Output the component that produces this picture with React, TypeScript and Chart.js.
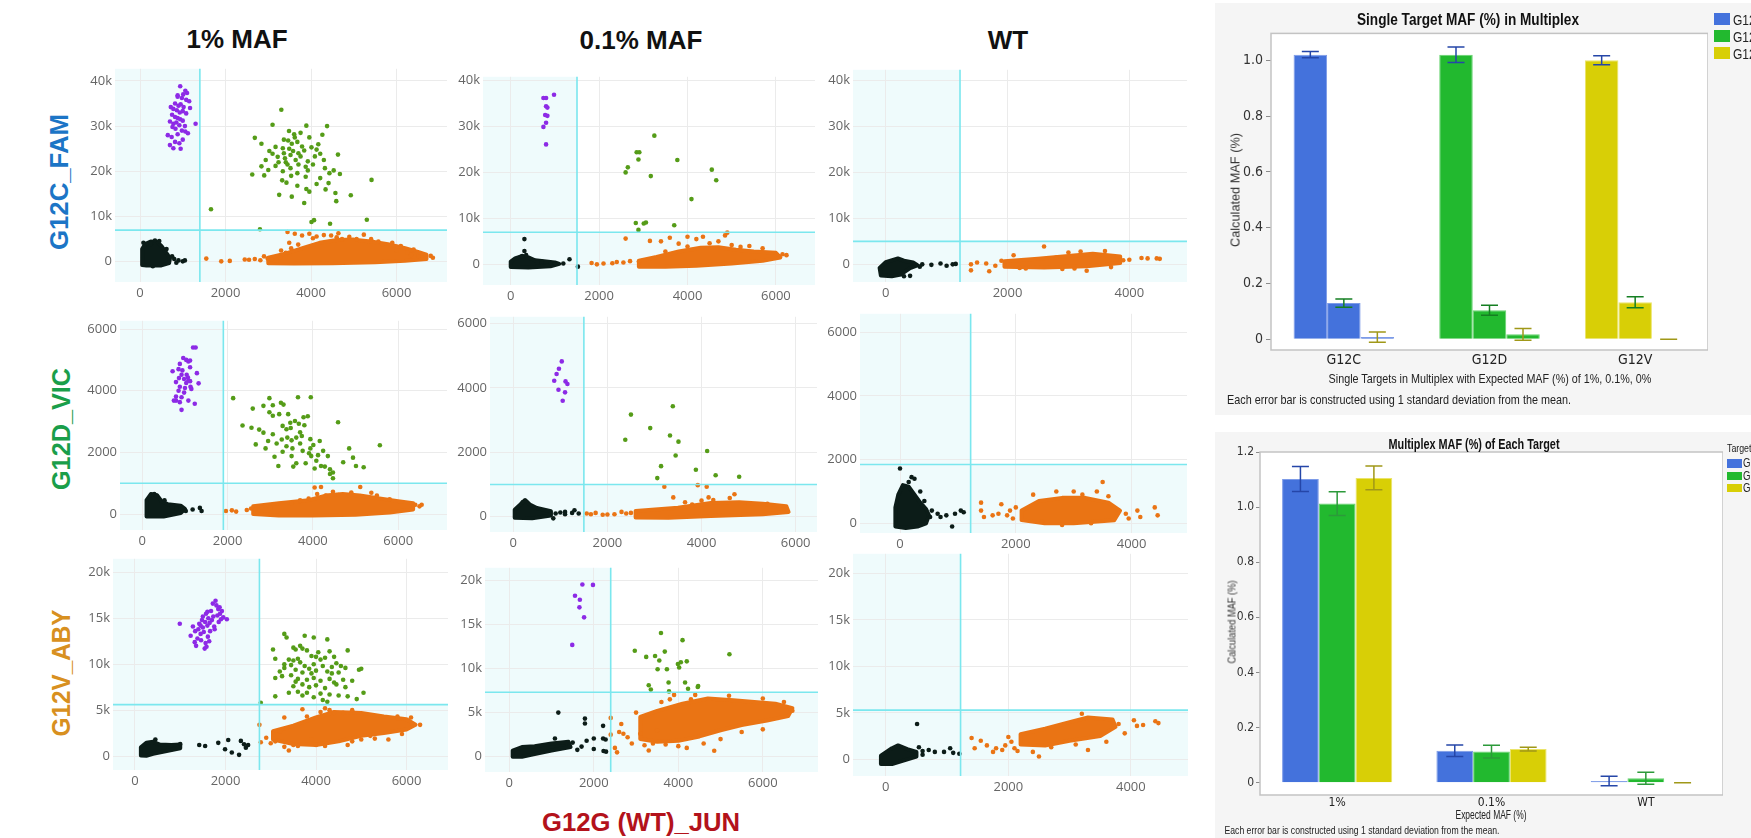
import React, { useEffect, useRef } from 'react';
import { Chart, registerables } from 'chart.js';

Chart.register(...registerables);

type P = [number, number];

// ---------------- axis ticks ----------------
const xTicks6k = [0, 2000, 4000, 6000];
const xTicks4k = [0, 2000, 4000];
const yTicksFam = [0, 10000, 20000, 30000, 40000];
const yLabelsFam = ['0', '10k', '20k', '30k', '40k'];
const yTicksVic = [0, 2000, 4000, 6000];
const yLabelsVic = ['0', '2000', '4000', '6000'];
const yTicksAby = [0, 5000, 10000, 15000, 20000];
const yLabelsAby = ['0', '5k', '10k', '15k', '20k'];

// ---------------- thresholds [x, y] ----------------
const fam1Thr: P = [1400, 7000];
const fam01Thr: P = [1500, 7000];
const famWTThr: P = [1220, 5000];
const vic1Thr: P = [1900, 1000];
const vic01Thr: P = [1500, 1000];
const vicWTThr: P = [1220, 1850];
const aby1Thr: P = [2750, 5600];
const aby01Thr: P = [2400, 7300];
const abyWTThr: P = [1220, 5300];

// ---------------- G12C_FAM, 1% ----------------
const fam1Purple: P[] = [[940,38800],[1060,37800],[1010,37000],[1100,37300],[880,36500],[980,36200],[1080,35800],[1150,35500],[820,35000],[900,34500],[950,34800],[1020,34200],[780,33800],[860,33500],[930,33000],[1000,33300],[1080,32800],[750,32500],[820,32000],[880,31800],[940,31500],[1000,31200],[700,31000],[780,30500],[850,30800],[920,30200],[1300,30500],[760,29800],[830,29400],[980,29000],[1060,28800],[650,28000],[740,27600],[880,28200],[1000,27000],[820,26500],[700,25800],[920,26200],[780,25100],[950,25000],[1120,28400],[1050,30000],[880,36800],[1170,34000],[720,34200]];
const fam1Green: P[] = [[3305,33600],[3100,30300],[3890,30100],[4375,30000],[2685,27400],[2840,26100],[3485,28900],[3605,28200],[3755,28500],[3170,25400],[3340,25100],[3465,26800],[3550,26100],[3680,26500],[3840,24600],[4010,25300],[4170,26000],[4265,28100],[3100,23900],[3220,23200],[3390,22900],[3520,23600],[3640,22500],[3755,23300],[3925,22200],[4090,23300],[4215,23900],[4630,23700],[2840,21100],[3000,20300],[3170,21200],[3340,20000],[3520,20700],[3680,19600],[2625,19300],[2905,19100],[3925,20200],[4325,20700],[4430,19600],[4530,20200],[4675,19400],[5415,18100],[3425,17500],[3680,16800],[3890,16100],[4130,17200],[4410,17400],[3255,14800],[3550,14400],[3840,13000],[4570,15200],[4590,13400],[4930,14700],[4010,8800],[4070,9200],[4445,8400],[5305,9300],[2805,7200],[1660,11600],[3365,24000],[3490,25000],[3580,24500],[3705,24000],[3790,25500],[3410,22000],[3705,21500],[3875,21000],[3240,22000],[3450,21500],[4045,21500],[4300,22500],[3620,27500],[3365,27000],[3960,27500],[3025,24500],[2940,22500],[4130,24800],[3535,19000],[3875,18800],[4215,18500],[3325,18000],[4340,16000],[3960,15500]];
const fam1BlackCore: P[] = [[50,-700],[50,2800],[120,3900],[250,4500],[400,4400],[500,3500],[580,2400],[650,1500],[700,700],[680,-300],[500,-800],[150,-800]];
const fam1Black: P[] = [[800,600],[900,300],[1000,100],[750,1200],[350,4700],[250,3900],[1050,300],[80,4200],[450,4600],[620,2800],[300,-1000],[850,-200]];
const fam1OrangeCore: P[] = [[3000,-300],[3000,900],[3400,1800],[3800,3000],[4200,4200],[4600,4800],[5000,4900],[5400,4500],[5800,3900],[6200,3000],[6500,2200],[6700,1600],[6700,600],[6200,200],[5500,-100],[4500,-300],[3600,-400]];
const fam1Orange: P[] = [[1550,700],[1900,100],[2100,200],[2450,500],[2550,450],[2685,600],[2815,350],[2985,700],[3070,500],[3195,300],[3280,900],[3450,6600],[3620,6200],[3790,5800],[3960,6200],[4130,5600],[4300,5900],[4470,5800],[4600,5400],[4725,5000],[4895,5500],[5065,5000],[5235,6000],[5405,5000],[5575,4500],[5660,3800],[6255,2000],[6340,1500],[6510,1200],[6000,2500],[4640,6300],[4045,5200],[3535,3000],[3410,2000],[3490,4200],[3300,2500],[3700,3800],[5900,4200],[6100,3500],[6400,2700],[6800,1300],[6850,900],[2900,1200]];

// ---------------- G12C_FAM, 0.1% ----------------
const fam01Purple: P[] = [[740,36200],[800,36200],[980,36900],[800,34400],[830,34100],[780,32500],[830,32300],[800,30800],[740,29900],[800,26100]];
const fam01Green: P[] = [[3250,28000],[2850,24400],[2910,24400],[2650,21100],[2600,20000],[2890,22800],[3170,19200],[3770,22700],[4550,20600],[4650,18300],[4090,14200],[2830,9000],[3010,8900],[3060,9100],[2890,7500],[3700,8500]];
const fam01BlackCore: P[] = [[0,-600],[0,600],[100,1300],[250,1800],[400,1500],[550,900],[800,600],[1000,400],[1100,100],[900,-400],[400,-700]];
const fam01Black: P[] = [[310,5500],[310,2900],[260,1800],[350,2000],[1190,200],[1330,1100],[1520,-500],[900,300],[1000,200],[700,600],[600,400]];
const fam01OrangeCore: P[] = [[2900,-500],[2900,800],[3300,1600],[3800,2800],[4300,3600],[4700,3700],[5100,3200],[5500,2800],[6000,2500],[6100,1500],[5700,800],[5000,200],[4200,-300],[3500,-500]];
const fam01Orange: P[] = [[1830,300],[1950,0],[2100,200],[2300,250],[2400,500],[2550,400],[2700,700],[2900,600],[2600,5600],[3150,5100],[3400,5000],[3600,5800],[3800,4500],[4000,6000],[4200,5500],[4350,6000],[4500,4600],[4700,5000],[4850,6300],[5000,4200],[5200,3800],[5400,4000],[5700,3500],[6240,2000],[4900,6900],[3500,2800],[4000,3900],[6150,2200]];

// ---------------- G12C_FAM, WT ----------------
const famWTBlackCore: P[] = [[-80,-2400],[-100,-800],[0,500],[200,1300],[300,800],[450,400],[520,-200],[400,-800],[250,-2200],[100,-2600]];
const famWTBlack: P[] = [[600,0],[750,-100],[900,200],[1000,-300],[1100,0],[1150,100],[400,-2500],[300,-2600],[560,-500]];
const famWTOrangeCore: P[] = [[1950,-500],[1950,700],[2500,1200],[3000,1800],[3400,2300],[3850,1700],[3850,300],[3300,-400],[2600,-700]];
const famWTOrange: P[] = [[1400,-1300],[1400,0],[1500,400],[1700,-1500],[1800,-300],[1900,800],[1650,200],[2100,2000],[2300,-900],[2600,3900],[2800,1500],[3000,2600],[3200,2800],[3300,-1400],[3500,1900],[3600,2900],[3700,-600],[3900,900],[4000,1000],[4200,1400],[4300,1300],[4450,1300],[4500,1200],[3100,-900],[2900,-1000],[2200,-800]];
const famWTPurple: P[] = [];
const famWTGreen: P[] = [];

// ---------------- G12D_VIC, 1% ----------------
const vic1Purple: P[] = [[1190,5400],[1250,5400],[960,5060],[1030,5000],[1080,4950],[880,4870],[1120,4760],[710,4630],[850,4700],[1280,4570],[920,4520],[980,4380],[1080,4330],[790,4280],[1030,4250],[1120,4310],[1320,4240],[880,4130],[1000,4090],[1150,4060],[790,3810],[920,3790],[790,3680],[880,3630],[1080,3680],[1230,3580],[920,3380],[850,4000],[1040,4520],[980,3940],[740,3680],[1120,4980],[1130,4130],[940,4660],[860,4410],[1070,4430]];
const vic1Green: P[] = [[2130,3760],[2980,3760],[3650,3790],[3950,3790],[2590,3420],[2840,3510],[3060,3530],[3250,3610],[3310,3550],[2980,3300],[3060,3190],[3210,3240],[3420,3240],[3470,2960],[3580,3020],[3780,3140],[3880,3170],[2350,2870],[2560,2800],[2740,2740],[3290,2860],[3480,2790],[3670,2930],[3800,2880],[4590,2980],[2840,2640],[3060,2590],[3400,2480],[3610,2480],[3740,2530],[3940,2430],[2660,2260],[2950,2370],[3150,2290],[3380,2200],[3500,2390],[3700,2290],[4010,2240],[4160,2370],[2890,2130],[3290,2020],[3520,2130],[3760,2050],[3940,2130],[4240,2050],[4850,2130],[3100,1860],[3500,1880],[3610,1650],[3830,1650],[3960,1880],[4080,1730],[4350,1880],[4940,1830],[3190,1560],[3540,1540],[4040,1480],[4190,1560],[4400,1450],[4470,1350],[5190,1520],[4280,1540],[4400,1300],[4470,1160],[3910,1970],[3700,2650],[3380,2750],[3270,2420],[5570,2230],[4710,1680],[4120,1910],[5010,1560]];
const vic1BlackCore: P[] = [[100,-80],[100,450],[200,650],[350,600],[450,420],[600,320],[900,270],[1000,170],[900,30],[500,-80]];
const vic1Black: P[] = [[1180,150],[1350,200],[1390,100],[1020,100],[800,180],[700,220],[280,650],[330,600],[520,450]];
const vic1OrangeCore: P[] = [[2600,0],[2600,250],[3200,350],[3900,450],[4300,600],[4700,650],[5100,600],[5600,500],[6000,420],[6350,350],[6350,150],[5800,50],[5000,-20],[4000,-50],[3200,-50]];
const vic1Orange: P[] = [[1960,100],[2100,120],[2200,80],[2450,130],[2550,180],[2650,140],[2800,220],[3000,200],[3500,350],[3700,450],[4040,860],[4190,880],[4470,720],[4850,610],[5110,880],[5370,690],[4600,620],[4300,600],[6400,300],[6550,300],[6500,250],[3900,500],[5800,480],[4900,700],[5500,600],[4100,650]];

// ---------------- G12D_VIC, 0.1% ----------------
const vic01Purple: P[] = [[1030,4820],[970,4590],[920,4430],[870,4220],[1110,4200],[1150,4120],[960,3940],[1100,3860],[1050,3600]];
const vic01Green: P[] = [[2500,3170],[3390,3430],[2380,2390],[2910,2750],[3330,2520],[3510,2330],[3450,1900],[3140,1570],[3060,1200],[3880,1460],[4120,2040],[4300,1290],[4800,1240]];
const vic01BlackCore: P[] = [[30,-30],[30,220],[150,380],[250,520],[350,380],[500,270],[800,170],[800,40],[400,-50]];
const vic01Black: P[] = [[900,100],[1000,130],[1100,80],[1250,120],[1300,200],[1390,100],[1100,150],[200,450],[850,-50]];
const vic01OrangeCore: P[] = [[2600,-20],[2600,180],[3500,280],[4200,430],[4800,450],[5300,400],[5800,330],[5850,150],[5300,80],[4200,20],[3300,-30]];
const vic01Orange: P[] = [[1560,100],[1650,80],[1750,120],[1900,60],[2000,70],[2150,80],[2300,150],[2400,100],[2500,120],[3210,930],[3920,980],[4110,930],[3400,600],[3650,450],[4000,500],[4250,520],[4600,580],[4700,700],[5000,400],[5400,400],[4150,600],[3800,380]];

// ---------------- G12D_VIC, WT ----------------
const vicWTBlackCore: P[] = [[-80,-100],[-80,500],[-30,900],[50,1200],[150,1150],[250,900],[350,650],[450,450],[500,250],[450,0],[300,-100],[100,-150]];
const vicWTBlack: P[] = [[0,1720],[150,1300],[200,1450],[250,1400],[350,1000],[420,700],[550,400],[650,300],[800,250],[950,300],[1050,400],[1100,350],[900,-100],[520,200],[700,200]];
const vicWTOrangeCore: P[] = [[2100,100],[2100,400],[2400,700],[2800,800],[3200,800],[3600,650],[3800,400],[3700,100],[3000,0],[2500,0]];
const vicWTOrange: P[] = [[1400,650],[1400,400],[1450,200],[1600,250],[1700,300],[1750,600],[1850,250],[1900,400],[1950,150],[2000,500],[2300,900],[2700,1000],[3000,1000],[3150,900],[3400,1000],[3500,1300],[3600,850],[3900,300],[3950,150],[4100,400],[4150,200],[4400,500],[4450,250],[2800,-50],[3300,0],[2450,50]];
const vicWTPurple: P[] = [];
const vicWTGreen: P[] = [];

// ---------------- G12V_ABY, 1% ----------------
const aby1Purple: P[] = [[990,14400],[1230,13100],[1280,14100],[1320,12400],[1330,13600],[1350,12000],[1380,12800],[1400,13800],[1420,14400],[1450,13300],[1460,12600],[1480,14800],[1500,14000],[1500,15200],[1520,13500],[1540,11700],[1550,14600],[1560,12300],[1570,15500],[1580,11900],[1600,14200],[1610,13000],[1620,15000],[1640,12500],[1650,14500],[1660,13600],[1680,15800],[1700,14800],[1720,16600],[1730,15200],[1750,14100],[1780,16900],[1800,16400],[1820,15300],[1840,16000],[1850,14600],[1870,16200],[1880,15500],[1900,14900],[1920,15800],[1950,15100],[2030,14900],[1600,15700],[1450,14200],[1760,13800]];
const aby1Green: P[] = [[3300,13300],[3350,12900],[3750,13100],[3950,12900],[4250,12700],[3050,11600],[3500,11800],[3550,11600],[3700,11700],[3800,11500],[4050,11300],[4300,11400],[4700,11500],[3100,10600],[3400,10500],[3500,10400],[3600,10600],[3900,10900],[4000,10800],[4100,10500],[4200,10700],[4400,10800],[4450,10100],[3300,10000],[3450,9900],[3650,10200],[3750,9800],[3850,9500],[3950,10000],[4150,9800],[4350,9700],[4550,9800],[4650,9600],[4950,9400],[5000,9500],[3200,9200],[3300,9600],[3550,9400],[3700,9100],[3900,9000],[4000,9300],[4250,9200],[4500,9100],[3100,8500],[3250,8700],[3450,8800],[3600,8400],[3800,8300],[3950,8500],[4100,8200],[4300,8400],[4400,8000],[4600,8300],[4800,8200],[3500,7600],[3700,7800],[3850,7500],[4000,7700],[4200,7400],[4450,7800],[4650,7500],[3600,7000],[3800,6900],[4100,6800],[4300,6700],[4500,6600],[4700,6500],[4900,6200],[5050,6900],[3100,6500],[3400,6900],[3950,6400],[4150,6100],[3700,6600],[4250,5900],[2780,5800],[3550,8100],[4350,9000],[3650,12000]];
const aby1BlackCore: P[] = [[130,50],[130,950],[250,1450],[400,1550],[550,1250],[800,1200],[1000,1250],[1000,850],[700,550],[400,250],[250,30]];
const aby1Black: P[] = [[450,1800],[1000,1300],[1420,1200],[1840,1440],[2060,1740],[1990,740],[2140,380],[2300,130],[2340,1650],[2410,1290],[2450,900],[2500,1200],[1550,1100]];
const aby1OrangeCore: P[] = [[3050,1800],[3050,2700],[3500,3300],[4000,4200],[4400,4800],[5000,4700],[5500,4300],[6000,4000],[6200,3400],[6000,2900],[5500,2500],[5000,2200],[4500,1600],[4000,1200],[3500,1300]];
const aby1Orange: P[] = [[2750,3400],[2780,1500],[2900,2000],[3000,1400],[3100,1600],[3300,1000],[3400,600],[3500,1200],[3600,1100],[3700,5100],[3900,1800],[4000,1200],[4200,1100],[4100,4800],[4300,5000],[4400,4700],[4600,4700],[4800,1600],[5000,1800],[5200,2200],[5300,1900],[5600,1800],[5800,4300],[6100,4200],[6300,3400],[5900,2400],[4700,1200],[3200,2700],[3300,4200],[4200,5200],[3800,4300],[4800,5000]];

// ---------------- G12V_ABY, 0.1% ----------------
const aby01Purple: P[] = [[1730,19500],[1980,19450],[1555,18230],[1670,17770],[1660,16910],[1770,15780],[1490,12660]];
const aby01Green: P[] = [[3590,14000],[4100,13200],[2970,12000],[3680,11900],[3240,11300],[3450,11400],[3550,10900],[4200,10800],[4060,10700],[3990,10500],[4020,10100],[3510,9900],[3730,9900],[5210,11600],[3300,8100],[3350,7600],[3770,8400],[4160,8400],[4230,7700],[4470,8000],[4460,7900],[3780,7400]];
const aby01BlackCore: P[] = [[80,0],[80,700],[300,1100],[600,1200],[1000,1500],[1400,1700],[1450,1100],[1000,700],[600,300],[300,0]];
const aby01Black: P[] = [[1160,5000],[1790,4320],[1790,3760],[1080,2070],[1830,1820],[1610,780],[1710,1150],[2000,2070],[2220,2070],[2280,1960],[2220,3500],[2000,880],[2230,660],[2290,580],[1500,1600]];
const aby01OrangeCore: P[] = [[3100,2000],[3100,4500],[3500,5200],[4100,6000],[4700,6600],[5300,6400],[5800,6200],[6300,6000],[6700,5500],[6600,4600],[6100,4100],[5500,3600],[5000,3000],[4500,2300],[4000,1800],[3500,1700]];
const aby01Orange: P[] = [[2400,4400],[2400,2500],[2500,1000],[2550,500],[2600,2800],[2650,3700],[2700,2600],[2800,2200],[2900,1500],[3000,5000],[3100,2600],[3200,1300],[3300,700],[3400,1500],[3500,3000],[3600,6200],[3800,6500],[3900,7000],[4000,1200],[4200,1000],[4400,7000],[4600,1500],[4850,680],[5000,2000],[5500,2800],[6000,3100],[5200,6900],[6000,6600],[6500,6200],[6700,5200],[3700,1400],[4300,6500]];

// ---------------- G12V_ABY, WT ----------------
const abyWTBlackCore: P[] = [[-80,-500],[-80,400],[100,1200],[200,1500],[350,1100],[500,800],[500,300],[300,-100],[100,-500]];
const abyWTBlack: P[] = [[510,3800],[600,500],[700,1000],[800,800],[950,800],[1050,1200],[1100,700],[1200,600],[600,900],[540,1300]];
const abyWTOrangeCore: P[] = [[2200,1600],[2200,2700],[2600,3300],[3000,4000],[3300,4500],[3700,4300],[3750,3500],[3500,2500],[3000,2000],[2600,1500]];
const abyWTOrange: P[] = [[1400,2300],[1450,1200],[1550,2000],[1650,1500],[1750,800],[1800,1200],[1900,1000],[1950,1500],[2000,2400],[2050,1900],[2100,1200],[2150,900],[2500,300],[2700,1300],[3100,1600],[3300,1000],[3600,1900],[3800,3800],[3900,2800],[4050,4200],[4100,3600],[4200,3700],[4400,4100],[4450,3900],[2400,800],[3200,4900]];
const abyWTPurple: P[] = [];
const abyWTGreen: P[] = [];

// ---------------- bar chart data ----------------
const singleCats = ['G12C', 'G12D', 'G12V'];
const singleSeriesNames = ['1%', '0.1%', '0%'];
const single1 = [1.02, 1.02, 1.0];
const single1Sd = [0.011, 0.028, 0.016];
const single01 = [0.13, 0.104, 0.133];
const single01Sd = [0.015, 0.018, 0.02];
const single0 = [0.008, 0.018, 0];
const single0Sd = [0.018, 0.021, 0];
const singleYTicks = [0, 0.2, 0.4, 0.6, 0.8, 1.0];
const singleYLabels = ['0', '0.2', '0.4', '0.6', '0.8', '1.0'];

const multiCats = ['1%', '0.1%', 'WT'];
const multiTargets = ['G12C', 'G12D', 'G12V'];
const multiG12C = [1.102, 0.116, 0.006];
const multiG12CSd = [0.045, 0.021, 0.017];
const multiG12D = [1.013, 0.113, 0.016];
const multiG12DSd = [0.043, 0.023, 0.022];
const multiG12V = [1.106, 0.122, 0];
const multiG12VSd = [0.043, 0.007, 0];
const multiYTicks = [0, 0.2, 0.4, 0.6, 0.8, 1.0, 1.2];
const multiYLabels = ['0', '0.2', '0.4', '0.6', '0.8', '1.0', '1.2'];

// ---------------- styles ----------------
const C_BLACK = '#0c1c18';
const C_ORANGE = '#ea7414';
const C_PURPLE = '#8d2ae6';
const C_GREEN = '#559c18';
const C_SHADE = '#effbfc';
const C_THR = '#7be7ee';
const BAR_BLUE = '#4472DC';
const BAR_GREEN = '#22B92F';
const BAR_YELLOW = '#D8CF06';
const BAR_BLUE_E = '#7d9be8';
const BAR_GREEN_E = '#66d36f';
const BAR_YELLOW_E = '#ebe46a';
const NARROW = "'Liberation Sans Narrow', 'DejaVu Sans Condensed', 'Liberation Sans', Arial, sans-serif";
const SANS = "'Liberation Sans', Arial, sans-serif";
const PLOTLY_FONT = "'Open Sans', 'Noto Sans', sans-serif";

type Panel = {
  L: number; R: number; T: number; B: number;
  xMin: number; xMax: number; yMin: number; yMax: number;
  xTicks: number[]; yTicks: number[]; yLabels: string[];
  thr: P;
  black: P[]; blackCore: P[]; orange: P[]; orangeCore: P[]; purple: P[]; green: P[];
};

const PANELS: Panel[] = [
  { L: 115, R: 447, T: 68, B: 282, xMin: -585, xMax: 7180, yMin: -4470, yMax: 42665, xTicks: xTicks6k, yTicks: yTicksFam, yLabels: yLabelsFam, thr: fam1Thr, black: fam1Black, blackCore: fam1BlackCore, orange: fam1Orange, orangeCore: fam1OrangeCore, purple: fam1Purple, green: fam1Green },
  { L: 483, R: 815, T: 76, B: 285, xMin: -627, xMax: 6885, yMin: -4490, yMax: 40800, xTicks: xTicks6k, yTicks: yTicksFam, yLabels: yLabelsFam, thr: fam01Thr, black: fam01Black, blackCore: fam01BlackCore, orange: fam01Orange, orangeCore: fam01OrangeCore, purple: fam01Purple, green: fam01Green },
  { L: 853, R: 1187, T: 69, B: 282, xMin: -537, xMax: 4947, yMin: -3839, yMax: 42364, xTicks: xTicks4k, yTicks: yTicksFam, yLabels: yLabelsFam, thr: famWTThr, black: famWTBlack, blackCore: famWTBlackCore, orange: famWTOrange, orangeCore: famWTOrangeCore, purple: famWTPurple, green: famWTGreen },
  { L: 120, R: 447, T: 320, B: 530, xMin: -523, xMax: 7144, yMin: -517, yMax: 6268, xTicks: xTicks6k, yTicks: yTicksVic, yLabels: yLabelsVic, thr: vic1Thr, black: vic1Black, blackCore: vic1BlackCore, orange: vic1Orange, orangeCore: vic1OrangeCore, purple: vic1Purple, green: vic1Green },
  { L: 490, R: 817, T: 316, B: 532, xMin: -495, xMax: 6454, yMin: -473, yMax: 6204, xTicks: xTicks6k, yTicks: yTicksVic, yLabels: yLabelsVic, thr: vic01Thr, black: vic01Black, blackCore: vic01BlackCore, orange: vic01Orange, orangeCore: vic01OrangeCore, purple: vic01Purple, green: vic01Green },
  { L: 860, R: 1187, T: 313, B: 533, xMin: -691, xMax: 4957, yMin: -304, yMax: 6582, xTicks: xTicks4k, yTicks: yTicksVic, yLabels: yLabelsVic, thr: vicWTThr, black: vicWTBlack, blackCore: vicWTBlackCore, orange: vicWTOrange, orangeCore: vicWTOrangeCore, purple: vicWTPurple, green: vicWTGreen },
  { L: 113, R: 448, T: 558, B: 770, xMin: -486, xMax: 6917, yMin: -1518, yMax: 21475, xTicks: xTicks6k, yTicks: yTicksAby, yLabels: yLabelsAby, thr: aby1Thr, black: aby1Black, blackCore: aby1BlackCore, orange: aby1Orange, orangeCore: aby1OrangeCore, purple: aby1Purple, green: aby1Green },
  { L: 485, R: 818, T: 567, B: 772, xMin: -575, xMax: 7306, yMin: -1725, yMax: 21387, xTicks: xTicks6k, yTicks: yTicksAby, yLabels: yLabelsAby, thr: aby01Thr, black: aby01Black, blackCore: aby01BlackCore, orange: aby01Orange, orangeCore: aby01OrangeCore, purple: aby01Purple, green: aby01Green },
  { L: 853, R: 1188, T: 553, B: 776, xMin: -536, xMax: 4933, yMin: -1790, yMax: 22112, xTicks: xTicks4k, yTicks: yTicksAby, yLabels: yLabelsAby, thr: abyWTThr, black: abyWTBlack, blackCore: abyWTBlackCore, orange: abyWTOrange, orangeCore: abyWTOrangeCore, purple: abyWTPurple, green: abyWTGreen },
];

const toXY = (pts: P[]) => pts.map(([x, y]) => ({ x, y }));

function makeQuadPlugin(p: Panel) {
  const poly = (chart: any, pts: P[], color: string) => {
    const { ctx, scales } = chart;
    if (!pts.length) return;
    ctx.beginPath();
    pts.forEach(([x, y], i) => {
      const px = scales.x.getPixelForValue(x);
      const py = scales.y.getPixelForValue(y);
      if (i === 0) ctx.moveTo(px, py); else ctx.lineTo(px, py);
    });
    ctx.closePath();
    ctx.fillStyle = color;
    ctx.strokeStyle = color;
    ctx.lineWidth = 4;
    ctx.lineJoin = 'round';
    ctx.fill();
    ctx.stroke();
  };
  return {
    id: 'quad',
    beforeDraw(chart: any) {
      const { ctx, chartArea: a, scales } = chart;
      const tx = scales.x.getPixelForValue(p.thr[0]);
      const ty = scales.y.getPixelForValue(p.thr[1]);
      ctx.save();
      ctx.fillStyle = C_SHADE;
      ctx.fillRect(a.left, a.top, tx - a.left, a.bottom - a.top);
      ctx.fillRect(tx, ty, a.right - tx, a.bottom - ty);
      ctx.restore();
    },
    beforeDatasetsDraw(chart: any) {
      const { ctx, chartArea: a } = chart;
      ctx.save();
      ctx.beginPath();
      ctx.rect(a.left, a.top, a.right - a.left, a.bottom - a.top);
      ctx.clip();
      poly(chart, p.blackCore, C_BLACK);
      poly(chart, p.orangeCore, C_ORANGE);
      ctx.restore();
    },
    afterDatasetsDraw(chart: any) {
      const { ctx, chartArea: a, scales } = chart;
      const tx = scales.x.getPixelForValue(p.thr[0]);
      const ty = scales.y.getPixelForValue(p.thr[1]);
      ctx.save();
      ctx.strokeStyle = C_THR;
      ctx.lineWidth = 1.6;
      ctx.beginPath();
      ctx.moveTo(tx, a.top); ctx.lineTo(tx, a.bottom);
      ctx.moveTo(a.left, ty); ctx.lineTo(a.right, ty);
      ctx.stroke();
      ctx.restore();
    },
  };
}

const YW = 44, XH = 24, PT = 10;

function ScatterPanel({ p }: { p: Panel }) {
  const ref = useRef<HTMLCanvasElement>(null);
  const left = p.L - YW, top = p.T - PT;
  const width = p.R - left + 4, height = p.B - top + XH;
  useEffect(() => {
    const ds = (pts: P[], color: string) => ({
      data: toXY(pts), backgroundColor: color, borderWidth: 0,
      pointRadius: 2.3, pointHoverRadius: 2.3,
    });
    const chart = new Chart(ref.current as HTMLCanvasElement, {
      type: 'scatter',
      data: { datasets: [ds(p.black, C_BLACK), ds(p.orange, C_ORANGE), ds(p.green, C_GREEN), ds(p.purple, C_PURPLE)] as any },
      options: {
        animation: false, responsive: false, maintainAspectRatio: false,
        layout: { padding: { top: PT, right: 4, left: 0, bottom: 0 } },
        plugins: { legend: { display: false }, tooltip: { enabled: false } },
        scales: {
          x: {
            type: 'linear', min: p.xMin, max: p.xMax, bounds: 'data',
            afterBuildTicks: (ax: any) => { ax.ticks = p.xTicks.map((v) => ({ value: v })); },
            afterFit: (s: any) => { s.height = XH; },
            grid: { color: '#ebebeb', lineWidth: 1, drawTicks: false },
            border: { display: false },
            ticks: { autoSkip: false, maxRotation: 0, padding: 3, color: '#666', font: { family: PLOTLY_FONT, size: 13 }, callback: (v: any) => String(v) },
          },
          y: {
            type: 'linear', min: p.yMin, max: p.yMax, bounds: 'data',
            afterBuildTicks: (ax: any) => { ax.ticks = p.yTicks.map((v) => ({ value: v })); },
            afterFit: (s: any) => { s.width = YW; },
            grid: { color: '#ebebeb', lineWidth: 1, drawTicks: false },
            border: { display: false },
            ticks: { autoSkip: false, padding: 3, color: '#666', font: { family: PLOTLY_FONT, size: 13 }, callback: (v: any) => { const i = p.yTicks.indexOf(v); return i >= 0 ? p.yLabels[i] : ''; } },
          },
        },
      } as any,
      plugins: [makeQuadPlugin(p)],
    });
    return () => chart.destroy();
  }, []);
  return <canvas ref={ref} width={width} height={height} style={{ position: 'absolute', left, top, width, height }} />;
}

function makeBarPlugin(sds: number[][], errColors: string[], capW: number) {
  return {
    id: 'errbars',
    beforeDraw(chart: any) {
      const { ctx, chartArea: a } = chart;
      ctx.save();
      ctx.fillStyle = '#ffffff';
      ctx.fillRect(a.left, a.top, a.right - a.left, a.bottom - a.top);
      ctx.restore();
    },
    afterDatasetsDraw(chart: any) {
      const { ctx, scales } = chart;
      ctx.save();
      chart.data.datasets.forEach((d: any, i: number) => {
        const meta = chart.getDatasetMeta(i);
        ctx.strokeStyle = errColors[i];
        ctx.lineWidth = 1.5;
        meta.data.forEach((bar: any, j: number) => {
          const v = d.data[j];
          const sd = sds[i][j];
          const yt = scales.y.getPixelForValue(v + sd);
          const yb = scales.y.getPixelForValue(v - sd);
          const x = bar.x;
          ctx.beginPath();
          ctx.moveTo(x, yt); ctx.lineTo(x, yb);
          ctx.moveTo(x - capW / 2, yt); ctx.lineTo(x + capW / 2, yt);
          ctx.moveTo(x - capW / 2, yb); ctx.lineTo(x + capW / 2, yb);
          ctx.stroke();
        });
      });
      ctx.restore();
    },
    afterDraw(chart: any) {
      const { ctx, chartArea: a } = chart;
      ctx.save();
      ctx.strokeStyle = '#c3c3c3';
      ctx.lineWidth = 1.5;
      ctx.strokeRect(a.left, a.top, a.right - a.left, a.bottom - a.top);
      ctx.restore();
    },
  };
}

type BarCfg = {
  L: number; R: number; T: number; B: number; yw: number; xh: number;
  yMin: number; yMax: number; yTicks: number[]; yLabels: string[];
  cats: string[]; datasets: any[]; sds: number[][]; errColors: string[];
  catPct: number; tickSize: number; catSize: number; tickLen: number; tickPad: number; catPad: number;
};

function BarPanel({ c }: { c: BarCfg }) {
  const ref = useRef<HTMLCanvasElement>(null);
  const left = c.L - c.yw, top = c.T - PT;
  const width = c.R - left, height = c.B - top + c.xh;
  useEffect(() => {
    const chart = new Chart(ref.current as HTMLCanvasElement, {
      type: 'bar',
      data: { labels: c.cats, datasets: c.datasets.map((d) => ({ ...d, barPercentage: 1, categoryPercentage: c.catPct, borderWidth: 1 })) },
      options: {
        animation: false, responsive: false, maintainAspectRatio: false,
        layout: { padding: { top: PT, right: 0, left: 0, bottom: 0 } },
        plugins: { legend: { display: false }, tooltip: { enabled: false } },
        scales: {
          x: {
            afterFit: (s: any) => { s.height = c.xh; },
            grid: { display: false, drawTicks: false },
            border: { display: false },
            ticks: { padding: c.catPad, color: '#222', font: { family: NARROW, size: c.catSize } },
          },
          y: {
            type: 'linear', min: c.yMin, max: c.yMax, bounds: 'data',
            afterBuildTicks: (ax: any) => { ax.ticks = c.yTicks.map((v) => ({ value: v })); },
            afterFit: (s: any) => { s.width = c.yw; },
            grid: { display: true, drawOnChartArea: false, drawTicks: true, tickLength: c.tickLen, color: '#8a8a8a' },
            border: { display: false },
            ticks: { autoSkip: false, padding: c.tickPad, color: '#333', font: { family: NARROW, size: c.tickSize }, callback: (v: any) => { const i = c.yTicks.findIndex((t) => Math.abs(t - v) < 1e-9); return i >= 0 ? c.yLabels[i] : ''; } },
          },
        },
      } as any,
      plugins: [makeBarPlugin(c.sds, c.errColors, 17)],
    });
    return () => chart.destroy();
  }, []);
  return <canvas ref={ref} width={width} height={height} style={{ position: 'absolute', left, top, width, height }} />;
}

const SINGLE: BarCfg = {
  L: 1271, R: 1708, T: 32, B: 350, yw: 56, xh: 22,
  yMin: -0.0382, yMax: 1.0963, yTicks: singleYTicks, yLabels: singleYLabels,
  cats: singleCats,
  datasets: [
    { label: singleSeriesNames[0], data: single1, backgroundColor: [BAR_BLUE, BAR_GREEN, BAR_YELLOW], borderColor: [BAR_BLUE_E, BAR_GREEN_E, BAR_YELLOW_E] },
    { label: singleSeriesNames[1], data: single01, backgroundColor: [BAR_BLUE, BAR_GREEN, BAR_YELLOW], borderColor: [BAR_BLUE_E, BAR_GREEN_E, BAR_YELLOW_E] },
    { label: singleSeriesNames[2], data: single0, backgroundColor: [BAR_BLUE, BAR_GREEN, BAR_YELLOW], borderColor: [BAR_BLUE_E, BAR_GREEN_E, BAR_YELLOW_E] },
  ],
  sds: [single1Sd, single01Sd, single0Sd],
  errColors: ['#2546A8', '#157F22', '#A09818'],
  catPct: 0.69, tickSize: 14, catSize: 14, tickLen: 5, tickPad: 3, catPad: 2,
};

const MULTI: BarCfg = {
  L: 1260, R: 1723, T: 452, B: 795, yw: 45, xh: 20,
  yMin: -0.0446, yMax: 1.2, yTicks: multiYTicks, yLabels: multiYLabels,
  cats: multiCats,
  datasets: [
    { label: multiTargets[0], data: multiG12C, backgroundColor: BAR_BLUE, borderColor: BAR_BLUE_E },
    { label: multiTargets[1], data: multiG12D, backgroundColor: BAR_GREEN, borderColor: BAR_GREEN_E },
    { label: multiTargets[2], data: multiG12V, backgroundColor: BAR_YELLOW, borderColor: BAR_YELLOW_E },
  ],
  sds: [multiG12CSd, multiG12DSd, multiG12VSd],
  errColors: ['#2546A8', '#2C9A3A', '#A09818'],
  catPct: 0.714, tickSize: 12, catSize: 12, tickLen: 4, tickPad: 2, catPad: 1,
};

let measureCtx: CanvasRenderingContext2D | null = null;
function measure(text: string, font: string) {
  if (!measureCtx) measureCtx = document.createElement('canvas').getContext('2d');
  if (!measureCtx) return 0;
  measureCtx.font = font;
  return measureCtx.measureText(text).width;
}

function Txt({ text, cx, cy, size, weight = 400, family = SANS, color = '#222', fitW, rotate = false, left }:
  { text: string; cx?: number; cy: number; size: number; weight?: number; family?: string; color?: string; fitW?: number; rotate?: boolean; left?: number }) {
  let k = 1;
  if (fitW) {
    const w = measure(text, `${weight} ${size}px ${family}`);
    if (w > 0) k = fitW / w;
  }
  const x = left !== undefined && fitW ? left + fitW / 2 : (cx as number);
  return (
    <div style={{
      position: 'absolute', left: x, top: cy, whiteSpace: 'nowrap',
      fontFamily: family, fontSize: size, fontWeight: weight, color, lineHeight: 1,
      transform: `translate(-50%, -50%) ${rotate ? 'rotate(-90deg) ' : ''}scaleX(${k})`,
    }}>{text}</div>
  );
}

function LegendItem({ x, y, w, h, color, text, size, tx }: { x: number; y: number; w: number; h: number; color: string; text: string; size: number; tx: number }) {
  return (
    <>
      <div style={{ position: 'absolute', left: x, top: y, width: w, height: h, background: color }} />
      <div style={{ position: 'absolute', left: tx, top: y + h / 2, transform: 'translateY(-50%) scaleX(0.8)', transformOrigin: 'left center', fontFamily: SANS, fontSize: size, lineHeight: 1, color: '#222', whiteSpace: 'nowrap' }}>{text}</div>
    </>
  );
}

export default function App() {
  return (
    <div style={{ position: 'absolute', left: 0, top: 0, width: 1751, height: 838, overflow: 'hidden', background: '#ffffff' }}>
      {/* column titles */}
      <Txt text="1% MAF" cx={237} cy={39} size={26} weight={700} color="#111" />
      <Txt text="0.1% MAF" cx={641} cy={40} size={26} weight={700} color="#111" />
      <Txt text="WT" cx={1008} cy={40} size={26} weight={700} color="#111" />
      {/* row labels */}
      <Txt text="G12C_FAM" cx={59} cy={182} size={26} weight={700} color="#1c75c6" fitW={136} rotate />
      <Txt text="G12D_VIC" cx={61} cy={429} size={26} weight={700} color="#1a9e4a" fitW={122} rotate />
      <Txt text="G12V_ABY" cx={61} cy={673} size={26} weight={700} color="#d89020" fitW={127} rotate />
      <Txt text="G12G (WT)_JUN" cx={641} cy={822} size={26} weight={700} color="#b3121b" fitW={198} />

      {PANELS.map((p, i) => <ScatterPanel key={i} p={p} />)}

      {/* bar chart 1 */}
      <div style={{ position: 'absolute', left: 1215, top: 3, width: 540, height: 412, background: '#f5f5f5' }} />
      <BarPanel c={SINGLE} />
      <Txt text="Single Target MAF (%) in Multiplex" cx={1467.6} cy={19.5} size={16} weight={700} fitW={222} color="#111" />
      <Txt text="Calculated MAF (%)" cx={1235} cy={190} size={13} fitW={114} rotate color="#333" />
      <Txt text="Single Targets in Multiplex with Expected MAF (%) of 1%, 0.1%, 0%" cx={1489.5} cy={378} size={13} fitW={323} color="#222" />
      <Txt text="Each error bar is constructed using 1 standard deviation from the mean." left={1226.5} cy={399} size={13} fitW={344} color="#222" />
      <LegendItem x={1714} y={13} w={16} h={12} color={BAR_BLUE} text="G12C" size={15} tx={1733} />
      <LegendItem x={1714} y={30} w={16} h={12} color={BAR_GREEN} text="G12D" size={15} tx={1733} />
      <LegendItem x={1714} y={47} w={16} h={12} color={BAR_YELLOW} text="G12V" size={15} tx={1733} />

      {/* bar chart 2 */}
      <div style={{ position: 'absolute', left: 1215, top: 432, width: 540, height: 410, background: '#f5f5f5' }} />
      <BarPanel c={MULTI} />
      <Txt text="Multiplex MAF (%) of Each Target" cx={1474} cy={444.3} size={14} weight={700} fitW={171} color="#111" />
      <Txt text="Calculated MAF (%)" cx={1231.7} cy={622} size={11} fitW={83} rotate color="#333" />
      <Txt text="Expected MAF (%)" cx={1491} cy={815} size={12} fitW={71} color="#222" />
      <Txt text="Each error bar is constructed using 1 standard deviation from the mean." left={1224} cy={831} size={11.5} fitW={275} color="#222" />
      <div style={{ position: 'absolute', left: 1726.5, top: 448, transform: 'translateY(-50%) scaleX(0.8)', transformOrigin: 'left center', fontFamily: SANS, fontSize: 11, lineHeight: 1, color: '#222', whiteSpace: 'nowrap' }}>Target</div>
      <LegendItem x={1727} y={459} w={14.5} h={8.5} color={BAR_BLUE} text="G12C" size={12} tx={1743} />
      <LegendItem x={1727} y={471.5} w={14.5} h={8.5} color={BAR_GREEN} text="G12D" size={12} tx={1743} />
      <LegendItem x={1727} y={483.5} w={14.5} h={8.5} color={BAR_YELLOW} text="G12V" size={12} tx={1743} />
    </div>
  );
}
